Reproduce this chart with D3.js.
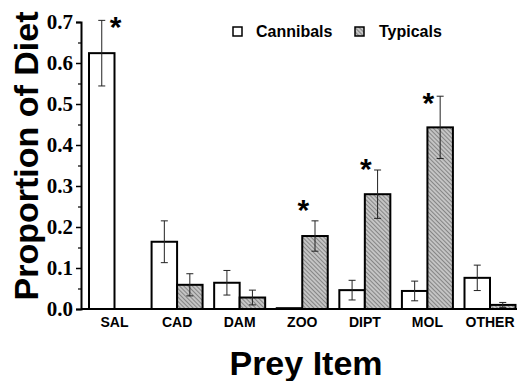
<!DOCTYPE html>
<html>
<head>
<meta charset="utf-8">
<script src="https://cdn.jsdelivr.net/npm/d3@7"></script>
<style>
  body { margin: 0; background: #fff; }
  svg { display: block; }
</style>
</head>
<body>
<svg id="chart" width="519" height="381"></svg>
<script>
const categories = ["SAL", "CAD", "DAM", "ZOO", "DIPT", "MOL", "OTHER"];
const series = ["Cannibals", "Typicals"];
const cannibals = [0.624, 0.164, 0.064, 0.002, 0.046, 0.044, 0.076];
const cannibalsErr = [0.080, 0.051, 0.030, 0.000, 0.024, 0.024, 0.031];
const typicals = [0.000, 0.059, 0.028, 0.178, 0.280, 0.443, 0.010];
const typicalsErr = [0.000, 0.027, 0.018, 0.037, 0.059, 0.076, 0.006];
const yTicks = [0, 0.1, 0.2, 0.3, 0.4, 0.5, 0.6, 0.7];
const starCats = ["SAL", "ZOO", "DIPT", "MOL"];
const starLevels = [0.705, 0.259, 0.359, 0.520];

const svg = d3.select("#chart");

// hatch for Typicals
const defs = svg.append("defs");
const pat = defs.append("pattern")
    .attr("id", "hatch")
    .attr("patternUnits", "userSpaceOnUse")
    .attr("width", 3).attr("height", 3)
    .attr("patternTransform", "rotate(-45)");
pat.append("rect").attr("width", 3).attr("height", 3).attr("fill", "#c4c4c4");
pat.append("line").attr("x1", 0).attr("y1", 0).attr("x2", 0).attr("y2", 3)
    .attr("stroke", "#5a5a5a").attr("stroke-width", 1.2);

const axisX = 81, y0 = 309;
const y = d3.scaleLinear().domain([0, 0.7]).range([y0, 22]);
const x = d3.scalePoint().domain(categories).range([114.5, 490]);
const sub = d3.scaleBand().domain(series).range([-25.5, 25.5]);

const rows = categories.map((c, i) => ({
    cat: c,
    bars: [
        { s: "Cannibals", v: cannibals[i], e: cannibalsErr[i] },
        { s: "Typicals", v: typicals[i], e: typicalsErr[i] }
    ]
}));

const groups = svg.append("g").selectAll("g")
    .data(rows)
    .join("g")
    .attr("transform", d => `translate(${x(d.cat)},0)`);

groups.selectAll("rect")
    .data(d => d.bars.filter(b => b.v > 0))
    .join("rect")
    .attr("x", b => sub(b.s))
    .attr("width", sub.bandwidth())
    .attr("y", b => y(b.v))
    .attr("height", b => Math.max(0.5, y0 - y(b.v)))
    .attr("fill", b => b.s === "Typicals" ? "url(#hatch)" : "#fff")
    .attr("stroke", "#000")
    .attr("stroke-width", 2);

// error bars
const eb = groups.selectAll("g.err")
    .data(d => d.bars.filter(b => b.e > 0))
    .join("g")
    .attr("class", "err")
    .attr("transform", b => `translate(${sub(b.s) + sub.bandwidth() / 2},0)`)
    .attr("stroke", "#222")
    .attr("stroke-width", 1);
eb.append("line")
    .attr("y1", b => y(b.v + b.e)).attr("y2", b => y(Math.max(0, b.v - b.e)));
eb.append("line").attr("x1", -3.5).attr("x2", 3.5)
    .attr("y1", b => y(b.v + b.e)).attr("y2", b => y(b.v + b.e));
eb.append("line").attr("x1", -3.5).attr("x2", 3.5)
    .attr("y1", b => y(Math.max(0, b.v - b.e))).attr("y2", b => y(Math.max(0, b.v - b.e)));

// x axis line
svg.append("line")
    .attr("x1", axisX).attr("x2", 517)
    .attr("y1", y0).attr("y2", y0)
    .attr("stroke", "#000").attr("stroke-width", 2);

// y axis
const yAxis = svg.append("g")
    .attr("transform", `translate(${axisX},0)`)
    .call(d3.axisLeft(y).tickValues(yTicks).tickFormat(d3.format(".1f")).tickSize(5).tickPadding(3));
yAxis.select(".domain").attr("stroke-width", 2);
yAxis.selectAll(".tick line").attr("stroke-width", 1.5);
yAxis.selectAll("text")
    .attr("font-family", "'Liberation Serif', 'Times New Roman', serif")
    .attr("font-weight", "bold")
    .attr("font-size", 21)
    .attr("fill", "#000");

const minor = svg.append("g")
    .attr("transform", `translate(${axisX},0)`)
    .call(d3.axisLeft(y).tickValues(yTicks.slice(0, -1).map(t => t + 0.05)).tickFormat("").tickSize(3));
minor.select(".domain").remove();
minor.selectAll(".tick line").attr("stroke-width", 1.2);

// category labels
svg.append("g").selectAll("text")
    .data(categories)
    .join("text")
    .attr("x", d => x(d))
    .attr("y", 327)
    .attr("text-anchor", "middle")
    .attr("font-family", "'Liberation Sans', Arial, sans-serif")
    .attr("font-weight", "bold")
    .attr("font-size", 14)
    .text(d => d);

// significance stars
svg.append("g").selectAll("text")
    .data(starCats.map((c, i) => ({ c, v: starLevels[i] })))
    .join("text")
    .attr("x", d => x(d.c) + 1)
    .attr("y", d => y(d.v) + 17)
    .attr("text-anchor", "middle")
    .attr("font-family", "'Liberation Sans', Arial, sans-serif")
    .attr("font-weight", "bold")
    .attr("font-size", 30)
    .text("*");

// legend
const legend = svg.append("g");
const legendX = [233, 355];
const legendTextX = [256, 379];
series.forEach((s, i) => {
    legend.append("rect")
        .attr("x", legendX[i]).attr("y", 27)
        .attr("width", 9).attr("height", 9)
        .attr("fill", i === 1 ? "url(#hatch)" : "#fff")
        .attr("stroke", "#000").attr("stroke-width", 1.5);
    legend.append("text")
        .attr("x", legendTextX[i]).attr("y", 37)
        .attr("font-family", "'Liberation Sans', Arial, sans-serif")
        .attr("font-weight", "bold")
        .attr("font-size", 16)
        .text(s);
});

// axis titles
svg.append("text")
    .attr("transform", "translate(38,156) rotate(-90)")
    .attr("text-anchor", "middle")
    .attr("font-family", "'Liberation Sans', Arial, sans-serif")
    .attr("font-weight", "bold")
    .attr("font-size", 34)
    .text("Proportion of Diet");

svg.append("text")
    .attr("x", 306).attr("y", 375)
    .attr("text-anchor", "middle")
    .attr("font-family", "'Liberation Sans', Arial, sans-serif")
    .attr("font-weight", "bold")
    .attr("font-size", 34)
    .text("Prey Item");
</script>
</body>
</html>
